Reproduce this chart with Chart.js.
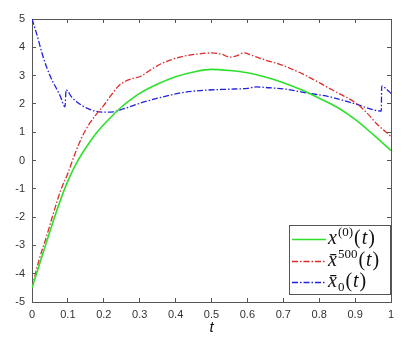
<!DOCTYPE html>
<html><head><meta charset="utf-8">
<script src="https://cdn.jsdelivr.net/npm/chart.js@4"></script>
<style>html,body{margin:0;padding:0;background:#fff}</style>
</head><body>
<canvas id="c" width="413" height="338"></canvas>
<script>
const xTicks = [0,0.1,0.2,0.3,0.4,0.5,0.6,0.7,0.8,0.9,1];
const xTickLabels = ['0','0.1','0.2','0.3','0.4','0.5','0.6','0.7','0.8','0.9','1'];
const yTicks = [-5,-4,-3,-2,-1,0,1,2,3,4,5];
const yTickLabels = ['-5','-4','-3','-2','-1','0','1','2','3','4','5'];

const tGreen = [0,0.025,0.05,0.075,0.1,0.125,0.15,0.175,0.2,0.225,0.25,0.275,0.3,0.35,0.4,0.45,0.5,0.55,0.6,0.65,0.7,0.75,0.8,0.85,0.9,0.95,1.0];
const yGreen = [-4.5,-3.5,-2.5,-1.55,-0.72,-0.07,0.45,0.9,1.27,1.6,1.9,2.15,2.37,2.7,2.96,3.13,3.22,3.18,3.1,2.95,2.75,2.5,2.2,1.88,1.45,0.92,0.35];

const tRed = [0,0.02,0.04,0.06,0.08,0.1,0.12,0.14,0.16,0.18,0.2,0.22,0.24,0.26,0.28,0.3,0.33,0.36,0.39,0.42,0.46,0.5,0.53,0.55,0.57,0.59,0.62,0.65,0.69,0.72,0.755,0.8,0.85,0.9,0.93,0.96,1.0];
const yRed = [-4.5,-3.5,-2.7,-1.85,-1.05,-0.45,0.25,0.85,1.3,1.65,1.95,2.3,2.62,2.8,2.9,2.96,3.2,3.42,3.57,3.68,3.76,3.8,3.75,3.65,3.7,3.8,3.68,3.55,3.4,3.25,3.05,2.75,2.4,2.05,1.72,1.3,0.85];

const tBlue = [0,0.014,0.03,0.05,0.078,0.092,0.095,0.11,0.125,0.153,0.195,0.226,0.254,0.3,0.35,0.41,0.45,0.505,0.55,0.6,0.625,0.66,0.7,0.774,0.83,0.9,0.973,0.974,0.985,1.0];
const yBlue = [5.0,4.43,3.7,3.0,2.3,1.9,2.5,2.25,2.07,1.85,1.71,1.72,1.82,2.02,2.2,2.38,2.45,2.5,2.52,2.55,2.6,2.57,2.53,2.37,2.25,2.0,1.75,2.63,2.55,2.37];

const GREEN = '#2ee02e', RED = '#e02a2a', BLUE = '#2020dd';
const AXIS = '#555555';
const pts = (t, y) => t.map((v, i) => ({x: v, y: y[i]}));

const legendPlugin = {
  id: 'mathLegend',
  afterDraw(chart) {
    const ctx = chart.ctx, a = chart.chartArea;
    ctx.save();
    const lx = Math.round(a.right) - 102, ly = Math.round(a.bottom) - 77;
    ctx.fillStyle = '#fff';
    ctx.fillRect(lx, ly, 101, 70);
    ctx.strokeStyle = AXIS;
    ctx.lineWidth = 1;
    ctx.strokeRect(lx + 0.5, ly + 0.5, 101, 69);
    const F = 'italic 20px "Liberation Serif"', U = '20px "Liberation Serif"', S = '13px "Liberation Serif"';
    const rows = [
      {c: GREEN, dash: [], yy: ly + 14, parts: [['x',F,0],['(0)',S,-8],['(',U,0],['t',F,0],[')',U,0]]},
      {c: RED, dash: [6,2,1.5,2], yy: ly + 36, parts: [['x\u0304',F,0],['500',S,-8],['(',U,0],['t',F,0],[')',U,0]]},
      {c: BLUE, dash: [6,2,1.5,2], yy: ly + 57, parts: [['x\u0304',F,0],['0',S,4],['(',U,0],['t',F,0],[')',U,0]]}
    ];
    rows.forEach(r => {
      ctx.strokeStyle = r.c; ctx.lineWidth = 1.3; ctx.setLineDash(r.dash);
      ctx.beginPath(); ctx.moveTo(lx + 3, r.yy + 0.5); ctx.lineTo(lx + 37, r.yy + 0.5); ctx.stroke();
      ctx.setLineDash([]);
      ctx.fillStyle = '#111'; ctx.textBaseline = 'alphabetic'; ctx.textAlign = 'left';
      let cx = lx + 39;
      r.parts.forEach(([s, f, dy]) => {
        ctx.font = f; ctx.fillText(s, cx, r.yy + 5 + dy);
        cx += ctx.measureText(s).width + 1;
      });
    });
    ctx.restore();
  }
};

const tickFont = {family: '"Liberation Sans"', size: 11};
const innerGrid = {display: true, drawOnChartArea: false, drawTicks: true, tickLength: -4, color: AXIS, lineWidth: 1};
const axisBorder = {display: true, color: AXIS, width: 1};

new Chart(document.getElementById('c'), {
  type: 'line',
  data: {
    datasets: [
      {data: pts(tGreen, yGreen), borderColor: GREEN, borderWidth: 1.6, cubicInterpolationMode: 'monotone'},
      {data: pts(tRed, yRed), borderColor: RED, borderWidth: 1.3, borderDash: [6,2,1.5,2], cubicInterpolationMode: 'monotone'},
      {data: pts(tBlue, yBlue), borderColor: BLUE, borderWidth: 1.3, borderDash: [6,2,1.5,2], cubicInterpolationMode: 'monotone'}
    ]
  },
  options: {
    responsive: false, animation: false,
    layout: {padding: {left: 0, right: 22, top: 19, bottom: 0}},
    elements: {point: {radius: 0}},
    plugins: {legend: {display: false}, tooltip: {enabled: false}},
    scales: {
      x: {
        type: 'linear', position: 'bottom', min: 0, max: 1,
        afterBuildTicks: s => { s.ticks = xTicks.map(v => ({value: v})); },
        afterFit: s => { s.height = 36; },
        grid: innerGrid, border: axisBorder,
        ticks: {padding: 10, color: '#333', font: tickFont, maxRotation: 0, callback: (v, i) => xTickLabels[i]},
        title: {display: true, text: 't', color: '#111', font: {family: '"Liberation Sans"', size: 15, style: 'italic'}, padding: {top: 0, bottom: 1}}
      },
      x2: {
        type: 'linear', position: 'top', min: 0, max: 1,
        afterBuildTicks: s => { s.ticks = xTicks.map(v => ({value: v})); },
        afterFit: s => { s.height = 0; },
        grid: innerGrid, border: axisBorder,
        ticks: {display: false}
      },
      y: {
        type: 'linear', position: 'left', min: -5, max: 5,
        afterBuildTicks: s => { s.ticks = yTicks.map(v => ({value: v})); },
        afterFit: s => { s.width = 32; },
        grid: innerGrid, border: axisBorder,
        ticks: {padding: 11, color: '#333', font: tickFont, callback: (v, i) => yTickLabels[i]}
      },
      y2: {
        type: 'linear', position: 'right', min: -5, max: 5,
        afterBuildTicks: s => { s.ticks = yTicks.map(v => ({value: v})); },
        afterFit: s => { s.width = 0; },
        grid: innerGrid, border: axisBorder,
        ticks: {display: false}
      }
    }
  },
  plugins: [legendPlugin]
});
</script>
</body></html>
